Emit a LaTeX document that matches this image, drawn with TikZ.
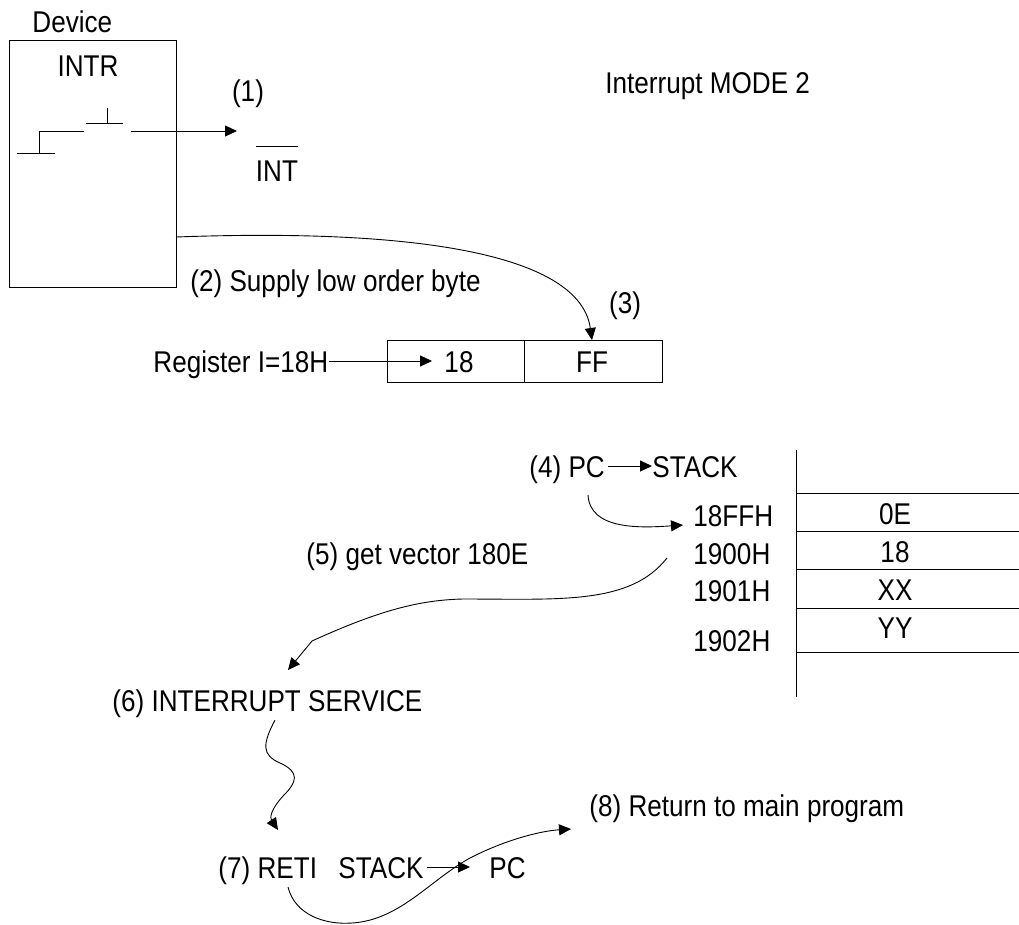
\documentclass[tikz,border=0pt]{standalone}
\usepackage{fontspec}
\setmainfont{Liberation Sans}[FakeStretch=0.87]
\usetikzlibrary{arrows.meta}
\newcommand{\lblfont}{\fontsize{30}{36}\selectfont}

\begin{document}
\begin{tikzpicture}[x=1pt, y=-1pt, line width=0.9pt,
  arr/.style={-{Triangle[length=12pt,width=11pt]}},
  txt/.style={inner sep=0pt, font=\lblfont},
  cell/.style={draw, inner sep=0pt, minimum height=42pt, anchor=north west}]
\useasboundingbox (0,0) rectangle (1019,924);

% ---- device with its INTR switch ----
\node[draw, inner sep=0pt, minimum width=167pt, minimum height=247pt, anchor=north west] (dev) at (9,40) {};
\node[txt, anchor=base west] (devlbl) at (32,32) {Device};
\node[txt, anchor=base] (intr) at (88,76) {INTR};
\draw (17,153) -- (55,153) (39,153) -- (39,131) -- (84,131);
\draw (86,123) -- (123,123) (107,108) -- (107,123);
\coordinate (swout) at (131,131);
\coordinate (intin) at (237,131);
\draw[arr] (swout) -- (intin);
\node[txt, anchor=base] (s1) at (248,101) {(1)};
\node[txt, anchor=base] (int) at (277,181) {INT};
\draw ([yshift=13pt]int.north west) -- ([yshift=13pt]int.north east);

\node[txt, anchor=base west] (mode) at (605,93) {Interrupt MODE 2};

% ---- vector address: I register and low byte ----
\node[txt, anchor=base west] (s2) at (190,291) {(2) Supply low order byte};
\node[txt, anchor=base] (s3) at (625,313) {(3)};
\node[cell, minimum width=137pt] (hi) at (387,340) {};
\node[cell, minimum width=138pt] (lo) at (524,340) {};
\node[txt, anchor=base] (v18) at (459,372) {18};
\node[txt, anchor=base] (vff) at (592,372) {FF};
\node[txt, anchor=base west] (reg) at (153,372) {Register I=18H};
\draw[arr] ([yshift=11pt]reg.base east) -- ([xshift=-12pt,yshift=11pt]v18.base west);
\coordinate (devout) at (176,237);
\draw[arr] (devout) .. controls (420,228) and (580,255) .. (vff.base |- lo.north);

% ---- stack ----
\coordinate (stktop) at (796,450);
\coordinate (stkbot) at (796,697);
\draw (stktop) -- (stkbot);
\foreach \y in {493,531,569,608,652} \draw (796,\y) -- (1019,\y);
\node[txt, anchor=base west] (a0) at (693,526) {18FFH};
\node[txt, anchor=base west] (a1) at (693,564) {1900H};
\node[txt, anchor=base west] (a2) at (693,601) {1901H};
\node[txt, anchor=base west] (a3) at (693,651) {1902H};
\node[txt, anchor=base] (m0) at (895,524) {0E};
\node[txt, anchor=base] (m1) at (895,562) {18};
\node[txt, anchor=base] (m2) at (895,600) {XX};
\node[txt, anchor=base] (m3) at (895,638) {YY};

\node[txt, anchor=base west] (pc4) at (529,477) {(4) PC};
\node[txt, anchor=base west] (stk4) at (652,477) {STACK};
\draw[arr] ([xshift=3pt,yshift=11pt]pc4.base east) -- ([yshift=11pt]stk4.base west);
\coordinate (pcdown) at (588,495);
\draw[arr] (pcdown) .. controls (590,530) and (640,528) .. ([xshift=-10pt,yshift=1pt]a0.base west);

% ---- vector fetch and service routine ----
\node[txt, anchor=base west] (s5) at (306,564) {(5) get vector 180E};
\coordinate (vecout) at (667,558);
\node[txt, anchor=base west] (isr) at (112,711) {(6) INTERRUPT SERVICE};
\draw[arr] (vecout) .. controls (630,605) and (560,599) .. (463,599)
  .. controls (420,600) and (380,610) .. (312,641) -- ([xshift=176pt,yshift=41pt]isr.base west);

\coordinate (isrout) at (275,720);
\node[txt, anchor=base west] (reti) at (218,878) {(7) RETI};
\draw[arr] (isrout) .. controls (262,745) and (262,755) .. (280,763)
  .. controls (300,772) and (297,782) .. (284,795)
  .. controls (270,810) and (270,818) .. ([xshift=60pt,yshift=48pt]reti.base west);

% ---- return ----
\node[txt, anchor=base west] (stk7) at (338,878) {STACK};
\node[txt, anchor=base west] (pc7) at (489,878) {PC};
\draw[arr] ([xshift=3pt,yshift=11pt]stk7.base east) -- ([xshift=-19pt,yshift=11pt]pc7.base west);
\node[txt, anchor=base west] (s8) at (589,816) {(8) Return to main program};
\coordinate (retiout) at (288,887);
\draw[arr] (retiout) .. controls (295,915) and (325,925) .. (352,923)
  .. controls (400,920) and (430,880) .. (470,858)
  .. controls (505,840) and (540,831) .. ([xshift=-18pt,yshift=-13pt]s8.base west);
\end{tikzpicture}
\end{document}
